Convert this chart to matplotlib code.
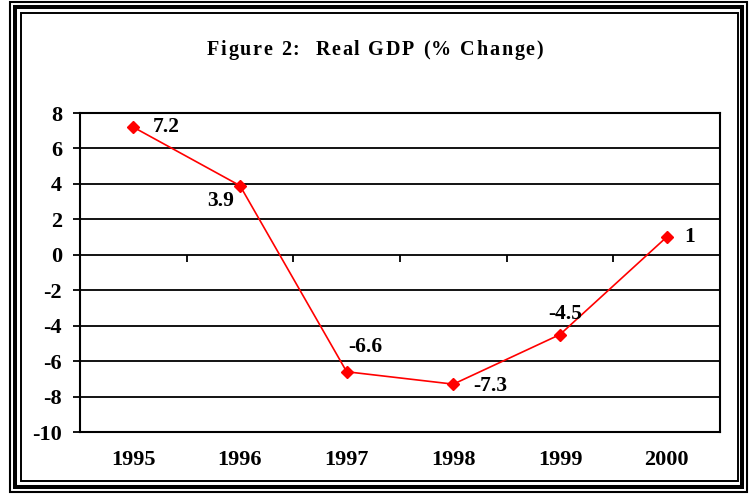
import numpy as np
import matplotlib.pyplot as plt
from matplotlib.patches import Rectangle

plt.rcParams["axes.unicode_minus"] = False

# -------------------------
# Data
# -------------------------
years = ["1995", "1996", "1997", "1998", "1999", "2000"]
gdp_change = [7.2, 3.9, -6.6, -7.3, -4.5, 1]
labels = ["7.2", "3.9", "-6.6", "-7.3", "-4.5", "1"]
# label offsets in points (dx, dy) and horizontal alignment
label_offsets = [(14, 0, "left"), (-4, -11, "right"), (1, 18, "left"),
                 (14, -1, "left"), (4, 15, "center"), (13, 0, "left")]

title = "Figure 2:  Real GDP (% Change)"

W, H = 749, 494
serif = "Liberation Serif"

fig = plt.figure(figsize=(W / 100, H / 100), dpi=100)
fig.patch.set_facecolor("white")

# -------------------------
# Triple frame around the figure
# -------------------------
def frame(x0, y0, x1, y1, lw):
    # pixel coords measured from top-left
    fig.patches.append(Rectangle((x0 / W, 1 - y1 / H), (x1 - x0) / W, (y1 - y0) / H,
                                 transform=fig.transFigure, fill=False,
                                 edgecolor="black", linewidth=lw))

frame(9.5, 2, 747, 492, 1.5)
frame(14.5, 7.5, 742, 487, 2.9)
frame(21, 13.5, 738, 481, 1.4)

# -------------------------
# Axes
# -------------------------
ax = fig.add_axes([80 / W, 1 - 432 / H, 640 / W, (432 - 113) / H])
x = np.arange(len(years))

ax.set_xlim(-0.5, len(years) - 0.5)
ax.set_ylim(-10, 8)
ax.set_yticks(np.arange(-10, 9, 2))
ax.yaxis.grid(True, color="black", linewidth=1.3)
ax.set_axisbelow(True)

for s in ax.spines.values():
    s.set_linewidth(1.5)
    s.set_color("black")

ax.set_xticks(x)
ax.set_xticklabels(years)
ax.tick_params(axis="x", length=0, pad=13)
ax.tick_params(axis="y", length=5, width=1.3, direction="out", pad=8)
for lab in ax.get_xticklabels() + ax.get_yticklabels():
    lab.set_fontfamily(serif)
    lab.set_fontweight("bold")
    lab.set_fontsize(16)

# category divider ticks on the zero line
bounds = np.arange(len(years) + 1) - 0.5
ax.plot(bounds, np.zeros_like(bounds), linestyle="none", marker=3,
        markersize=5, markeredgewidth=1.3, color="black", clip_on=False)

# series
ax.plot(x, gdp_change, color="red", linewidth=1.2, marker="D",
        markersize=6.5, markerfacecolor="red", markeredgecolor="red", zorder=3)

for xi, yi, lab, (dx, dy, ha) in zip(x, gdp_change, labels, label_offsets):
    ax.annotate(lab, (xi, yi), xytext=(dx, dy), textcoords="offset points",
                ha=ha, va="center", fontsize=15.5, fontweight="bold",
                fontfamily=serif)

# -------------------------
# Title with wide letter spacing
# -------------------------
renderer = fig.canvas.get_renderer()
tprops = dict(fontsize=14.5, fontweight="bold", fontfamily=serif, va="baseline")
widths = []
for ch in title:
    t = fig.text(0, 0, ch if ch != " " else "a", **tprops)
    w = t.get_window_extent(renderer).width
    if ch == " ":
        w = w * 0.55
    widths.append(w)
    t.remove()

target = 336.0
extra = max((target - sum(widths)) / (len(title) - 1), 0)
xpos = 375 - (sum(widths) + extra * (len(title) - 1)) / 2
for ch, w in zip(title, widths):
    if ch != " ":
        fig.text(xpos / W, 1 - 55 / H, ch, ha="left", **tprops)
    xpos += w + extra

plt.savefig("out.png", dpi=100)
